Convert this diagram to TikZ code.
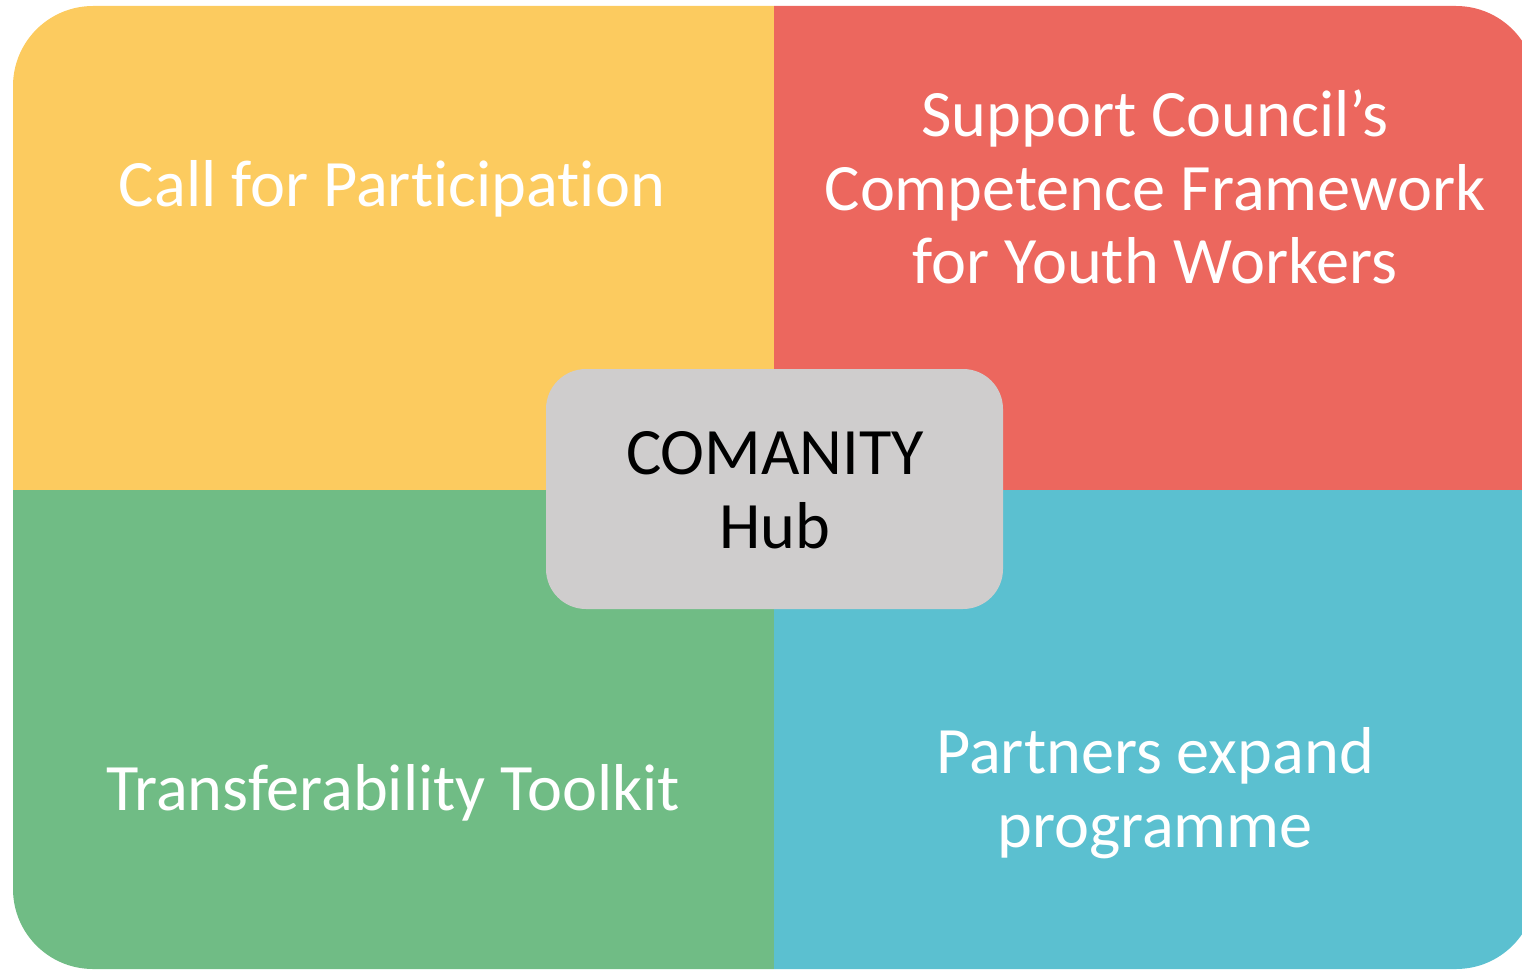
\documentclass[tikz,border=0pt]{standalone}
\usepackage{fontspec}
\setmainfont[RawFeature={-liga;-clig;-dlig}]{Carlito}
\definecolor{cyellow}{HTML}{FCCB5F}
\definecolor{cred}{HTML}{EC675E}
\definecolor{cgreen}{HTML}{70BC85}
\definecolor{cblue}{HTML}{5BC0D0}
\definecolor{cgray}{HTML}{CFCDCD}
\begin{document}
\begin{tikzpicture}[x=1pt,y=-1pt,
  lbl/.style={align=center,text=white,font=\fontsize{66.3}{73.5}\selectfont,inner sep=0pt},
  hub/.style={align=center,text=black,font=\fontsize{66.3}{73.5}\selectfont,inner sep=0pt}]
\useasboundingbox (0,0) rectangle (1522,971);
\begin{scope}
  \clip[rounded corners=80pt] (13,6) rectangle (1536,969);
  \fill[cyellow] (0,0) rectangle (774,489.5);
  \fill[cred] (774,0) rectangle (1540,489.5);
  \fill[cgreen] (0,489.5) rectangle (774,975);
  \fill[cblue] (774,489.5) rectangle (1540,975);
\end{scope}
\fill[cgray,rounded corners=40pt] (546,369) rectangle (1003,609);
\node[lbl] (call) at (392,189) {Call for Participation};
\node[lbl] (support) at (1155,187) {Support Council’s\\Competence Framework\\for Youth Workers};
\node[lbl] (toolkit) at (393,793) {Transferability Toolkit};
\node[lbl] (partners) at (1155,793) {Partners expand\\programme};
\node[hub] (hubtext) at (775,490) {COMANITY\\Hub};
\end{tikzpicture}
\end{document}
